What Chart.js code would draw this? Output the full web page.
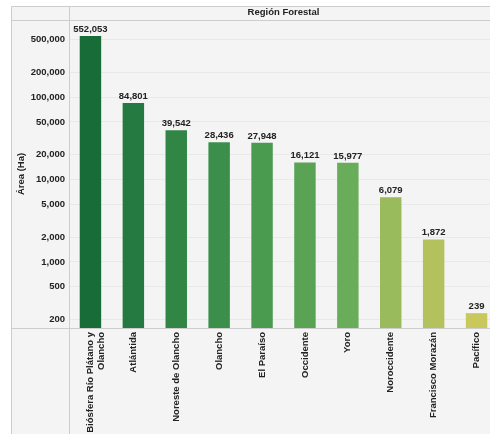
<!DOCTYPE html>
<html>
<head>
<meta charset="utf-8">
<title>Área por Región Forestal</title>
<script src="https://cdn.jsdelivr.net/npm/chart.js@4"></script>
<style>
  html, body { margin: 0; padding: 0; background: #ffffff; overflow: hidden; }
  #areaChart { display: block; }
</style>
</head>
<body>
<!-- the plot runs a little past the right edge of the window, as in the source -->
<canvas id="areaChart" width="498" height="434"></canvas>
<script>
/* ---------- DATA ---------- */

const regions = [
  ["Biósfera Río Plátano y", "Olancho"],
  "Atlántida",
  "Noreste de Olancho",
  "Olancho",
  "El Paraíso",
  "Occidente",
  "Yoro",
  "Noroccidente",
  "Francisco Morazán",
  "Pacífico"
];

const areaHa = [552053, 84801, 39542, 28436, 27948, 16121, 15977, 6079, 1872, 239];

const barColors = [
  "#176c37", "#257a41", "#318545", "#3c8f4a", "#4a9a50",
  "#5aa355", "#69ac5a", "#99bb5b", "#b4c25d", "#c8c85d"
];

const yTicks = [200, 500, 1000, 2000, 5000, 10000, 20000, 50000, 100000, 200000, 500000];

/* ---------- HELPERS ---------- */

const FONT = "'Liberation Sans', Arial, sans-serif";
const LINE = "#cdcdcd";
const PANEL = "#f4f4f4";

function fmt(v) {
  return Number(v).toLocaleString("en-US");
}

// panel background + table-like frame lines
const framePlugin = {
  id: "frame",
  beforeDraw(chart) {
    const { ctx, width, height } = chart;
    ctx.save();
    ctx.fillStyle = "#ffffff";
    ctx.fillRect(0, 0, width, height);
    ctx.fillStyle = PANEL;
    ctx.fillRect(11, 6, width - 11, height - 6);
    ctx.restore();
  },
  afterDraw(chart) {
    const { ctx, width, height, chartArea } = chart;
    const l = Math.round(chartArea.left) + 0.5;
    const t = Math.round(chartArea.top) + 0.5;
    const b = Math.round(chartArea.bottom) + 0.5;
    ctx.save();
    ctx.strokeStyle = LINE;
    ctx.lineWidth = 1;
    ctx.beginPath();
    ctx.moveTo(11.5, 6.5); ctx.lineTo(width, 6.5);
    ctx.moveTo(11.5, 6.5); ctx.lineTo(11.5, height);
    ctx.moveTo(11.5, t); ctx.lineTo(width, t);
    ctx.moveTo(11.5, b); ctx.lineTo(width, b);
    ctx.moveTo(l, 6.5); ctx.lineTo(l, height);
    ctx.stroke();
    ctx.restore();
  }
};

// value labels over the bars
const valueLabels = {
  id: "valueLabels",
  afterDatasetsDraw(chart) {
    const { ctx } = chart;
    const meta = chart.getDatasetMeta(0);
    ctx.save();
    ctx.font = "bold 9.5px " + FONT;
    ctx.fillStyle = "#222222";
    ctx.textAlign = "center";
    ctx.textBaseline = "bottom";
    meta.data.forEach((bar, i) => {
      ctx.fillText(fmt(areaHa[i]), bar.x, bar.y - 2);
    });
    ctx.restore();
  }
};

/* ---------- INIT ---------- */

const ctx = document.getElementById("areaChart").getContext("2d");

new Chart(ctx, {
  type: "bar",
  data: {
    labels: regions,
    datasets: [
      {
        label: "Área (Ha)",
        data: areaHa,
        backgroundColor: barColors,
        borderWidth: 0,
        barPercentage: 0.5,
        categoryPercentage: 1.0
      }
    ]
  },
  options: {
    responsive: false,
    animation: false,
    layout: {
      padding: { left: 11, top: 6, right: 0, bottom: 0 }
    },
    plugins: {
      legend: { display: false },
      tooltip: { enabled: false }
    },
    scales: {
      x: {
        position: "bottom",
        grid: { display: false, drawTicks: false },
        border: { display: false },
        ticks: {
          autoSkip: false,
          minRotation: 90,
          maxRotation: 90,
          padding: 4,
          color: "#222222",
          font: { family: FONT, size: 9.5, weight: "bold", lineHeight: 1.2 }
        },
        afterFit(scale) { scale.height = 106; }
      },
      xTop: {
        type: "category",
        position: "top",
        labels: regions,
        grid: { display: false, drawTicks: false },
        border: { display: false },
        ticks: { display: false },
        title: {
          display: true,
          text: "Región Forestal",
          color: "#222222",
          padding: { top: 1, bottom: 0 },
          font: { family: FONT, size: 9.5, weight: "bold" }
        },
        afterFit(scale) { scale.height = 14; }
      },
      y: {
        type: "logarithmic",
        min: 158,
        max: 863000,
        afterBuildTicks(scale) {
          scale.ticks = yTicks.map(v => ({ value: v }));
        },
        grid: { color: "#e9e9e9", drawTicks: false },
        border: { display: false },
        ticks: {
          padding: 4,
          color: "#222222",
          font: { family: FONT, size: 9.5, weight: "bold" },
          callback: v => fmt(v)
        },
        title: {
          display: true,
          text: "Área (Ha)",
          color: "#222222",
          padding: { top: 5, bottom: 0 },
          font: { family: FONT, size: 9.5, weight: "bold" }
        },
        afterFit(scale) { scale.width = 58; }
      }
    }
  },
  plugins: [framePlugin, valueLabels]
});
</script>
</body>
</html>
